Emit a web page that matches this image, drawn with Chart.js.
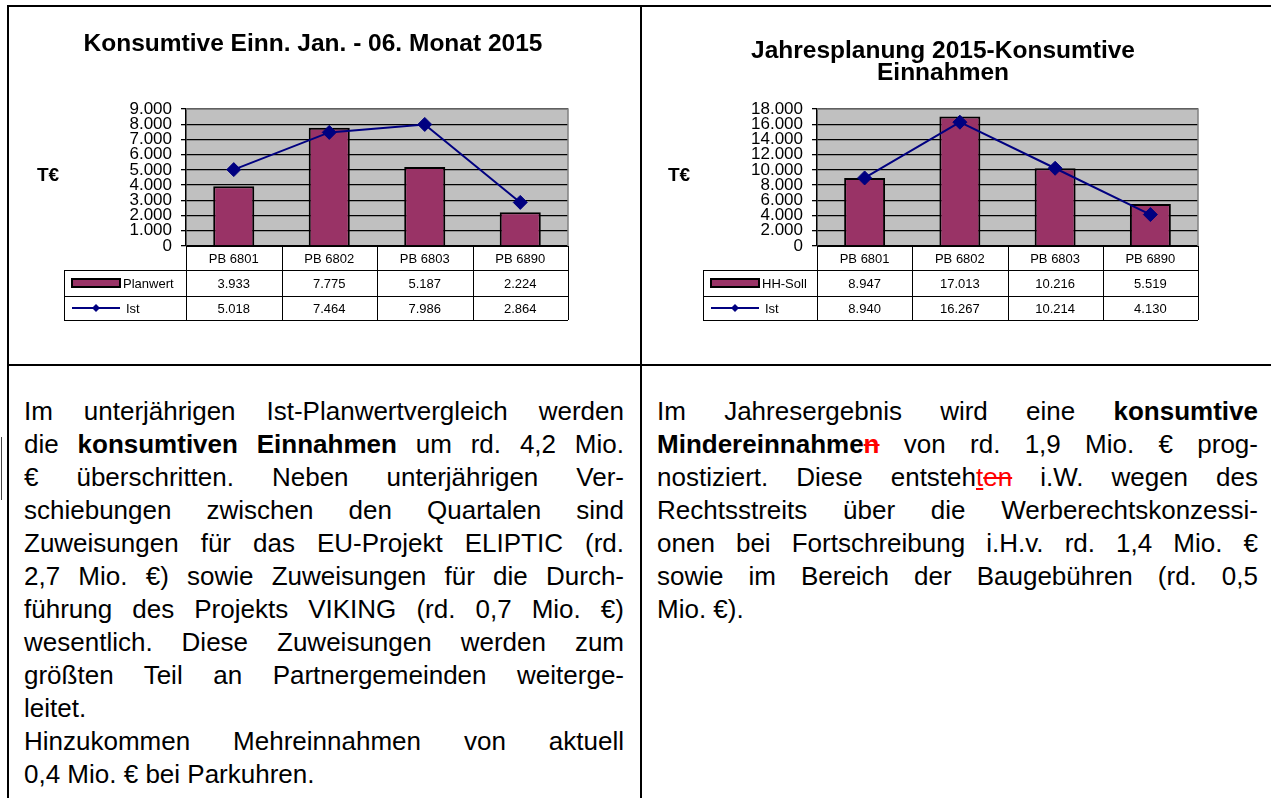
<!DOCTYPE html>
<html>
<head>
<meta charset="utf-8">
<script src="https://cdn.jsdelivr.net/npm/chart.js@4/dist/chart.umd.min.js"></script>
<style>
    body {
        margin: 0;
        width: 1271px;
        height: 798px;
        overflow: hidden;
        background: #fff;
        position: relative;
        font-family: "Liberation Sans", Arial, sans-serif;
    }
    .rule { position: absolute; background: #000; z-index: 5; }
    canvas { position: absolute; }
    .txt { position: absolute; top: 395px; font-size: 26px; color: #000; }
    .ln { height: 33px; line-height: 33px; text-align: justify; text-align-last: justify; white-space: nowrap; }
    .ln.end { text-align-last: left; }
    .red-s { color: #f00; text-decoration: line-through; }
    .red-u { color: #f00; text-decoration: underline; }
</style>
</head>
<body>

<canvas id="chart-left" width="606" height="357" style="left:10px;top:8px;width:606px;height:357px"></canvas>
<canvas id="chart-right" width="604" height="357" style="left:641px;top:8px;width:604px;height:357px"></canvas>

<!-- table frame of the page -->
<div class="rule" style="left:7px;top:5px;width:1264px;height:2px"></div>
<div class="rule" style="left:7px;top:5px;width:2px;height:793px"></div>
<div class="rule" style="left:640px;top:5px;width:2px;height:793px"></div>
<div class="rule" style="left:7px;top:364px;width:1264px;height:2px"></div>
<div class="rule" style="left:1px;top:437px;width:1px;height:63px;background:#444"></div>

<div class="txt" style="left:24px;width:600px">
    <div class="ln">Im unterjährigen Ist-Planwertvergleich werden</div>
    <div class="ln">die <b>konsumtiven Einnahmen</b> um rd. 4,2 Mio.</div>
    <div class="ln">€ überschritten. Neben unterjährigen Ver-</div>
    <div class="ln">schiebungen zwischen den Quartalen sind</div>
    <div class="ln">Zuweisungen für das EU-Projekt ELIPTIC (rd.</div>
    <div class="ln">2,7 Mio. €) sowie Zuweisungen für die Durch-</div>
    <div class="ln">führung des Projekts VIKING (rd. 0,7 Mio. €)</div>
    <div class="ln">wesentlich. Diese Zuweisungen werden zum</div>
    <div class="ln">größten Teil an Partnergemeinden weiterge-</div>
    <div class="ln end">leitet.</div>
    <div class="ln">Hinzukommen Mehreinnahmen von aktuell</div>
    <div class="ln end">0,4 Mio. € bei Parkuhren.</div>
</div>

<div class="txt" style="left:657px;width:601px">
    <div class="ln">Im Jahresergebnis wird eine <b>konsumtive</b></div>
    <div class="ln"><b>Mindereinnahme<span class="red-s">n</span></b> von rd. 1,9 Mio. € prog-</div>
    <div class="ln">nostiziert. Diese entsteh<span class="red-u">t</span><span class="red-s">en</span> i.W. wegen des</div>
    <div class="ln">Rechtsstreits über die Werberechtskonzessi-</div>
    <div class="ln">onen bei Fortschreibung i.H.v. rd. 1,4 Mio. €</div>
    <div class="ln">sowie im Bereich der Baugebühren (rd. 0,5</div>
    <div class="ln end">Mio. €).</div>
</div>

<script>
// Categories shared by both charts
const categories = ['PB 6801', 'PB 6802', 'PB 6803', 'PB 6890'];

// Left chart: Jan. - 06. Monat 2015
const planwert = [3933, 7775, 5187, 2224];
const istHalbjahr = [5018, 7464, 7986, 2864];
const yMaxLeft = 9000;
const yStepLeft = 1000;

// Right chart: Jahresplanung 2015
const hhSoll = [8947, 17013, 10216, 5519];
const istJahr = [8940, 16267, 10214, 4130];
const yMaxRight = 18000;
const yStepRight = 2000;

const PLUM = '#993366';
const NAVY = '#000080';
const FONT = '"Liberation Sans", Arial, sans-serif';
const PLOT_LEFT = 176;

Chart.defaults.font.family = FONT;
Chart.defaults.color = '#000';

// German thousands separator
function fmt(v) {
    return String(v).replace(/\B(?=(\d{3})+(?!\d))/g, '.');
}

/**
 * Draws the grey plot background, the data table under the plot
 * and the "T€" unit label.
 */
const tablePlugin = {
    id: 'dataTable',
    beforeDraw(chart) {
        const a = chart.chartArea;
        const ctx = chart.ctx;
        ctx.save();
        ctx.fillStyle = '#c0c0c0';
        ctx.fillRect(a.left, a.top, a.right - a.left, a.bottom - a.top);
        ctx.restore();
    },
    afterDraw(chart, args, opts) {
        const ctx = chart.ctx;
        const a = chart.chartArea;
        const xs = chart.scales.x;
        const rowH = [24, 26, 24];
        const n = chart.data.labels.length;

        // plot frame (grey top / right)
        ctx.save();
        ctx.strokeStyle = '#808080';
        ctx.lineWidth = 1.5;
        ctx.beginPath();
        ctx.moveTo(a.left, a.top);
        ctx.lineTo(a.right, a.top);
        ctx.lineTo(a.right, a.bottom);
        ctx.stroke();

        // column edges from the category scale
        const edges = [a.left];
        for (let i = 1; i < n; i++) {
            edges.push((xs.getPixelForValue(i - 1) + xs.getPixelForValue(i)) / 2);
        }
        edges.push(a.right);

        const y0 = a.bottom;
        const y1 = y0 + rowH[0];
        const y2 = y1 + rowH[1];
        const y3 = y2 + rowH[2];
        const legLeft = opts.legendLeft;

        ctx.strokeStyle = '#000';
        ctx.lineWidth = 1;
        ctx.beginPath();
        // horizontals
        ctx.moveTo(a.left, y0 + 0.5); ctx.lineTo(a.right, y0 + 0.5);
        ctx.moveTo(legLeft, y1 + 0.5); ctx.lineTo(a.right, y1 + 0.5);
        ctx.moveTo(legLeft, y2 + 0.5); ctx.lineTo(a.right, y2 + 0.5);
        ctx.moveTo(legLeft, y3 + 0.5); ctx.lineTo(a.right, y3 + 0.5);
        // verticals
        edges.forEach(e => {
            const ex = Math.round(e) + 0.5;
            ctx.moveTo(ex, y0); ctx.lineTo(ex, y3);
        });
        ctx.moveTo(legLeft + 0.5, y1); ctx.lineTo(legLeft + 0.5, y3);
        ctx.stroke();

        // cell texts
        ctx.fillStyle = '#000';
        ctx.font = '13px ' + FONT;
        ctx.textAlign = 'center';
        ctx.textBaseline = 'middle';
        const bars = chart.data.datasets[0];
        const line = chart.data.datasets[1];
        for (let i = 0; i < n; i++) {
            const cx = (edges[i] + edges[i + 1]) / 2;
            ctx.fillText(chart.data.labels[i], cx, (y0 + y1) / 2 + 1);
            ctx.fillText(fmt(bars.data[i]), cx, (y1 + y2) / 2 + 1);
            ctx.fillText(fmt(line.data[i]), cx, (y2 + y3) / 2 + 1);
        }

        // legend keys
        const kx = legLeft + 8;
        const kw = 48;
        const r1 = (y1 + y2) / 2;
        const r2 = (y2 + y3) / 2;
        ctx.fillStyle = PLUM;
        ctx.fillRect(kx, r1 - 4, kw, 8);
        ctx.lineWidth = 2;
        ctx.strokeRect(kx, r1 - 4, kw, 8);

        ctx.strokeStyle = NAVY;
        ctx.lineWidth = 2;
        ctx.beginPath();
        ctx.moveTo(kx, r2);
        ctx.lineTo(kx + kw, r2);
        ctx.stroke();
        ctx.fillStyle = NAVY;
        const dx = kx + kw / 2;
        ctx.beginPath();
        ctx.moveTo(dx, r2 - 4);
        ctx.lineTo(dx + 4, r2);
        ctx.lineTo(dx, r2 + 4);
        ctx.lineTo(dx - 4, r2);
        ctx.closePath();
        ctx.fill();

        ctx.fillStyle = '#000';
        ctx.textAlign = 'left';
        ctx.fillText(bars.label, kx + kw + 3, r1 + 1);
        ctx.fillText(line.label, kx + kw + 6, r2 + 1);

        // unit label
        ctx.font = 'bold 19px ' + FONT;
        ctx.textAlign = 'center';
        ctx.fillText('T€', 38, 168);
        ctx.restore();
    }
};

function buildChart(id, opts) {
    return new Chart(document.getElementById(id), {
        type: 'bar',
        data: {
            labels: categories,
            datasets: [
                {
                    type: 'bar',
                    label: opts.barLabel,
                    data: opts.bars,
                    backgroundColor: PLUM,
                    borderColor: '#000',
                    borderWidth: 2,
                    barPercentage: 0.43,
                    categoryPercentage: 1,
                    order: 2
                },
                {
                    type: 'line',
                    label: 'Ist',
                    data: opts.line,
                    borderColor: NAVY,
                    backgroundColor: NAVY,
                    borderWidth: 2,
                    pointStyle: 'rectRot',
                    pointRadius: 7,
                    pointBorderWidth: 1,
                    tension: 0,
                    order: 1
                }
            ]
        },
        options: {
            responsive: false,
            animation: false,
            layout: {
                // equal side padding keeps the title centred over the cell
                padding: { left: opts.pad, right: opts.pad, top: 0, bottom: 119 }
            },
            scales: {
                x: {
                    display: false,
                    offset: true
                },
                y: {
                    min: 0,
                    max: opts.yMax,
                    afterFit(scale) { scale.width = PLOT_LEFT - opts.pad; },
                    ticks: {
                        stepSize: opts.yStep,
                        autoSkip: false,
                        padding: 9,
                        color: '#000',
                        font: { size: 17 },
                        callback: v => fmt(v)
                    },
                    grid: {
                        color: '#000',
                        lineWidth: 1.3,
                        tickLength: 5,
                        drawTicks: true
                    },
                    border: { display: true, color: '#000', width: 1.5 }
                }
            },
            plugins: {
                legend: { display: false },
                tooltip: { enabled: false },
                title: {
                    display: true,
                    text: opts.title,
                    color: '#000',
                    font: { size: 24.5, weight: 'bold', lineHeight: 22 / 24.5 },
                    padding: opts.titlePad
                },
                dataTable: { legendLeft: opts.legendLeft }
            }
        },
        plugins: [tablePlugin]
    });
}

buildChart('chart-left', {
    title: 'Konsumtive Einn. Jan. - 06. Monat 2015',
    titlePad: { top: 25, bottom: 54 },
    barLabel: 'Planwert',
    bars: planwert,
    line: istHalbjahr,
    yMax: yMaxLeft,
    yStep: yStepLeft,
    pad: 48,
    legendLeft: 54
});

buildChart('chart-right', {
    title: ['Jahresplanung 2015-Konsumtive', 'Einnahmen'],
    titlePad: { top: 32, bottom: 25 },
    barLabel: 'HH-Soll',
    bars: hhSoll,
    line: istJahr,
    yMax: yMaxRight,
    yStep: yStepRight,
    pad: 47,
    legendLeft: 62
});
</script>
</body>
</html>
